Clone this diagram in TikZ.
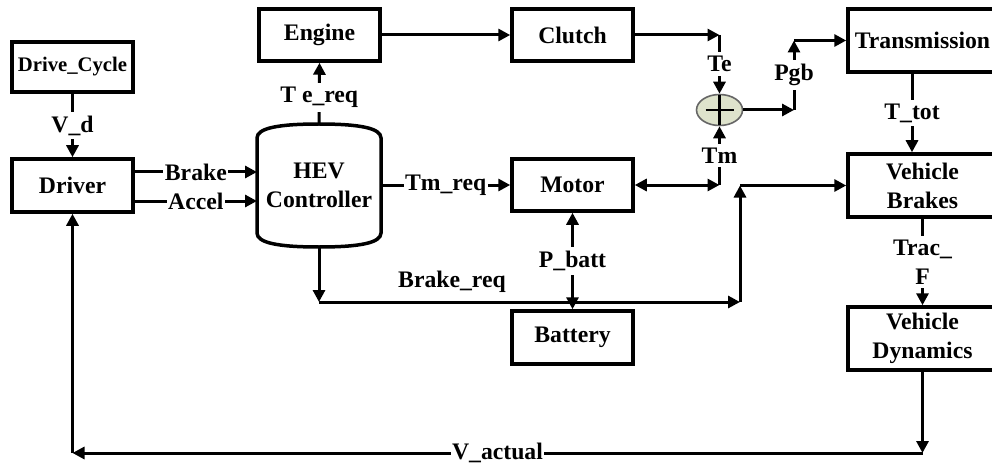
\documentclass[tikz,border=0pt]{standalone}
\usepackage{fontspec}
\setmainfont{Liberation Serif}
\usetikzlibrary{arrows.meta,shapes.geometric,calc}
\newcommand\fnt{\bfseries\fontsize{23.7}{29}\selectfont}
\definecolor{sumfill}{RGB}{222,227,204}
\begin{document}
\begin{tikzpicture}[x=1pt,y=-1pt,
 blk/.style={draw, line width=3.5pt, minimum width=121pt, minimum height=52pt, align=center, inner sep=0pt, font=\fnt},
 wblk/.style={blk, minimum width=149pt, minimum height=63pt},
 conn/.style={line width=3pt},
 arr/.style={conn, -{Triangle[length=12pt,width=12pt]}},
 darr/.style={conn, {Triangle[length=12pt,width=12pt]}-{Triangle[length=12pt,width=12pt]}},
 lbl/.style={fill=white, inner xsep=1.5pt, inner ysep=4pt, font=\fnt}]
\useasboundingbox (0,0) rectangle (992,465);
% blocks
\node[blk, font=\bfseries\fontsize{20.7}{24}\selectfont, minimum height=50pt] (dc) at (72.5,67) {Drive\_Cycle};
\node[blk, minimum height=53pt] (driver) at (72.5,185.5) {Driver};
\node[blk] (engine) at (319.5,35) {Engine};
\node[blk] (clutch) at (572.5,35) {Clutch};
\node[blk] (motor) at (572.5,185) {Motor};
\node[blk, minimum height=53pt] (battery) at (572.5,337.5) {Battery};
\node[wblk] (trans) at (922.5,40.5) {Transmission};
\node[wblk] (vbrakes) at (922.5,185.5) {Vehicle\\Brakes};
\node[wblk] (vdyn) at (922.5,338.5) {Vehicle\\Dynamics};
\node[align=center, font=\fnt, minimum width=124pt, minimum height=123pt, inner sep=0pt, outer sep=0pt] (hev) at (319,185.5) {HEV\\Controller};
\draw[line width=3.5pt] ([yshift=-14pt]hev.north west) .. controls ([yshift=-4pt]hev.north west) and ([xshift=-40pt]hev.north) .. (hev.north)
  .. controls ([xshift=40pt]hev.north) and ([yshift=-4pt]hev.north east) .. ([yshift=-14pt]hev.north east)
  -- ([yshift=14pt]hev.south east) .. controls ([yshift=4pt]hev.south east) and ([xshift=40pt]hev.south) .. (hev.south)
  .. controls ([xshift=-40pt]hev.south) and ([yshift=4pt]hev.south west) .. ([yshift=14pt]hev.south west) -- cycle;
% sum
\node[ellipse, draw=black!60, line width=1.6pt, fill=sumfill, minimum width=46pt, minimum height=31pt, inner sep=0pt] (sum) at (719.5,110) {};
\draw[line width=2.6pt] ([xshift=-14pt]sum.center) -- ([xshift=14pt]sum.center);
\draw[line width=2.6pt] ([yshift=-1pt]sum.north) -- ([yshift=1pt]sum.south);
% connectors
\draw[arr] (dc.south) -- node[lbl]{V\_d} (driver.north);
\draw[arr] ([yshift=13.5pt]driver.east) -- node[lbl]{Brake} ([yshift=13.5pt]driver.east -| hev.west);
\draw[arr] ([yshift=-15.5pt]driver.east) -- node[lbl]{Accel} ([yshift=-15.5pt]driver.east -| hev.west);
\draw[arr] (hev.east |- motor.west) -- node[lbl]{Tm\_req} (motor.west);
\draw[arr] (hev.north) -- node[lbl, pos=0.43]{T e\_req} (engine.south);
\draw[arr] (engine.east) -- (clutch.west);
\coordinate (te) at (sum.north |- clutch.east);
\draw[arr] (clutch.east) -- (te);
\draw[arr] (te) -- node[lbl]{Te} (sum.north);
\coordinate (tm) at (sum.south |- motor.east);
\draw[darr] (motor.east) -- (tm);
\draw[arr] (tm) -- node[lbl]{Tm} (sum.south);
\coordinate (pg1) at (794,110);
\coordinate (pg2) at (794,40.5);
\draw[arr] (sum.east) -- (pg1);
\draw[arr] (pg1) -- node[lbl]{Pgb} (pg2);
\draw[arr] (pg2) -- (trans.west);
\draw[arr] ([xshift=-10.5pt]trans.south) -- node[lbl]{T\_tot} ([xshift=-10.5pt]vbrakes.north);
\draw[arr] (vbrakes.south) -- node[lbl, align=center]{Trac\_\\F} (vdyn.north);
% brake request
\coordinate (br1) at (hev.south |- 0,302);
\coordinate (br2) at (740,302);
\coordinate (br3) at (br2 |- vbrakes.west);
\draw[arr] (hev.south) -- (br1);
\draw[arr] (br1) -- (br2);
\draw[arr] (br2) -- (br3);
\draw[arr] (br3) -- (vbrakes.west);
\node[font=\fnt] (brl) at (452,282) {Brake\_req};
\draw[darr] (battery.north) -- node[lbl]{P\_batt} (motor.south);
% feedback
\coordinate (va1) at (vdyn.south |- 0,453);
\coordinate (va2) at (driver.south |- va1);
\draw[arr] (vdyn.south) -- (va1);
\draw[arr] (va1) -- node[lbl]{V\_actual} (va2);
\draw[arr] (va2) -- (driver.south);
\end{tikzpicture}
\end{document}
